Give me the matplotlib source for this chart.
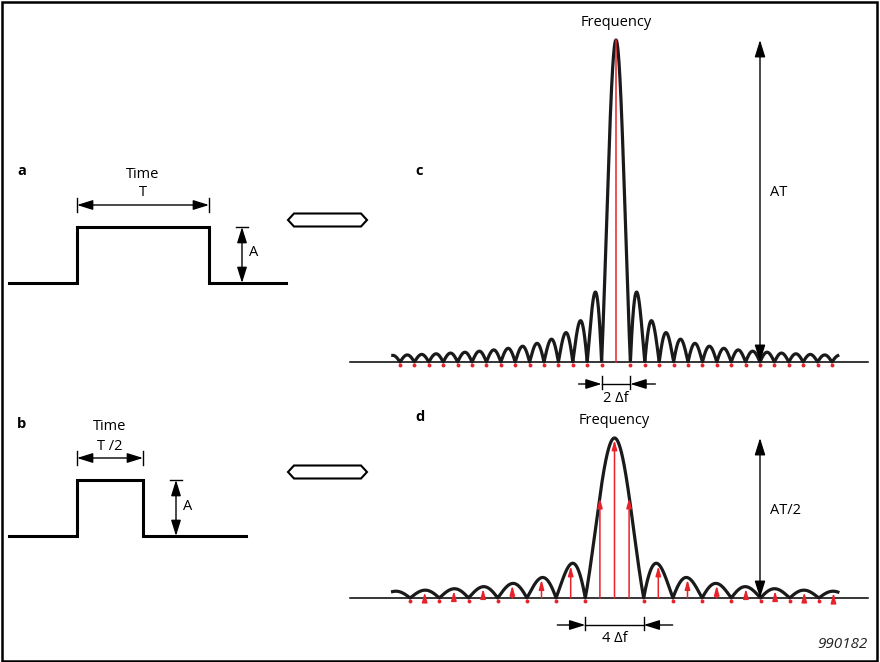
import numpy as np
import matplotlib.pyplot as plt
from matplotlib.patches import Polygon, Rectangle

plt.rcParams['font.family'] = ['Open Sans', 'DejaVu Sans']

# drawing is laid out in pixel units of the 880 x 662 picture
# time pulses: a has width T, b has width T/2
panel_time = ['a', 'b']
pulse_start = 77
pulse_width = [132, 66]
pulse_amp = [56, 56]
pulse_base = [283, 536]
line_start = 9
line_end = [286, 246]
width_label = ['T', 'T /2']

# spectra: c = AT|sinc(f T)|, d = AT/2 |sinc(f T/2)|, f in units of df
panel_freq = ['c', 'd']
df = [14.4, 14.6]
centre = [616, 614.5]
peak = [322, 160]
spec_base = [362, 598]
f_min = [-15.5, -15.2]
f_max = [15.4, 15.3]
width_factor = [1.0, 0.5]
n_min = [-15, -14]
n_max = [15, 15]
height_label = ['AT', 'AT/2']
dim_label = ['2 \u0394f', '4 \u0394f']

RED = '#e8222b'
FS = 10.5

fig = plt.figure(figsize=(8.8, 6.62), dpi=100)
ax = fig.add_axes([0, 0, 1, 1])
ax.set_xlim(0, 880)
ax.set_ylim(662, 0)
ax.axis('off')

ax.add_patch(Rectangle((1.5, 1.5), 875, 659, fill=False, lw=1.8, ec='black'))


def arrow(x0, y0, x1, y1, color='black', lw=1.0, hl=0.8, hw=0.25, ms=12, both=False):
    style = '<|-|>' if both else '-|>'
    ax.annotate('', xy=(x1, y1), xytext=(x0, y0),
                arrowprops=dict(arrowstyle=f'{style},head_length={hl},head_width={hw}',
                                color=color, lw=lw, mutation_scale=ms,
                                shrinkA=0, shrinkB=0))


# ---- time panels a, b
for i in range(2):
    x0 = pulse_start
    x1 = pulse_start + pulse_width[i]
    yb = pulse_base[i]
    yt = yb - pulse_amp[i]
    ax.plot([line_start, x0, x0, x1, x1, line_end[i]], [yb, yb, yt, yt, yb, yb],
            color='black', lw=2.2, solid_joinstyle='miter')
    ax.text(17, yb - 112, panel_time[i], fontsize=10.5, fontweight='bold', va='center')
    # width dimension
    yd = yt - 22
    ax.plot([x0, x0], [yd - 7, yd + 7], color='black', lw=1.0)
    ax.plot([x1, x1], [yd - 7, yd + 7], color='black', lw=1.0)
    arrow(x0, yd, x1, yd, both=True)
    xm = (x0 + x1) / 2
    ax.text(xm, yd - 31, 'Time', fontsize=FS, ha='center', va='center')
    ax.text(xm, yd - 12, width_label[i], fontsize=FS, ha='center', va='center')
    # amplitude
    xa = x1 + 33
    ax.plot([xa - 6, xa + 6], [yt, yt], color='black', lw=1.0)
    arrow(xa, yt, xa, yb, both=True)
    ax.text(xa + 7, (yt + yb) / 2 - 2, 'A', fontsize=FS, va='center')

    # transform symbol
    yc = [220, 472][i]
    hexa = [(288, yc), (294, yc - 6.5), (361, yc - 6.5), (367, yc),
            (361, yc + 6.5), (294, yc + 6.5)]
    ax.add_patch(Polygon(hexa, closed=True, fill=False, lw=1.5, ec='black'))

# ---- frequency panels c, d
for i in range(2):
    c = centre[i]
    yb = spec_base[i]
    f = np.linspace(f_min[i], f_max[i], 3000)
    amp = peak[i] * np.abs(np.sinc(f * width_factor[i]))
    ax.plot([350, 868], [yb, yb], color='black', lw=1.1)
    ax.plot(c + f * df[i], yb - amp, color='#1a1a1a', lw=2.3, zorder=3)

    n = np.arange(n_min[i], n_max[i] + 1)
    h = peak[i] * np.abs(np.sinc(n * width_factor[i]))
    zero = h < 1e-6
    ax.plot(c + n[zero] * df[i], np.full(zero.sum(), yb + 3), 'o', color=RED,
            ms=2.8, mec='none', zorder=4)
    for nk, hk in zip(n[~zero], h[~zero]):
        if i == 0:
            ax.plot([c, c], [yb, yb - hk], color=RED, lw=1.1, zorder=4)
        else:
            arrow(c + nk * df[i], yb, c + nk * df[i], yb - hk + 2, color=RED,
                  lw=1.1, hl=0.8, hw=0.22, ms=7)

    ax.text(415, yb - 191 if i == 0 else yb - 181, panel_freq[i], fontsize=10.5,
            fontweight='bold', va='center')
    ax.text(c, yb - peak[i] - 18, 'Frequency', fontsize=FS, ha='center', va='center')

    # height arrow
    arrow(760, yb - peak[i], 760, yb, both=True, ms=13)
    ax.text(770, yb - peak[i] / 2 - 8, height_label[i], fontsize=FS, va='center')

    # spacing dimension
    w = 2 * df[i] if i == 0 else 4 * df[i]
    xl = c - w / 2
    xr = c + w / 2
    yd = yb + 22 if i == 0 else yb + 27
    ax.plot([xl, xl], [yd - 8, yd + 5], color='black', lw=1.0)
    ax.plot([xr, xr], [yd - 8, yd + 5], color='black', lw=1.0)
    ax.plot([xl, xr], [yd, yd], color='black', lw=1.0)
    arrow(xl - 23 - (5 if i else 0), yd, xl, yd)
    arrow(xr + 25 + (4 if i else 0), yd, xr, yd)
    ax.text(c, yd + 14, dim_label[i], fontsize=FS, ha='center', va='center')

ax.text(868, 645, '990182', fontsize=11, style='italic', ha='right', va='center',
        color='#222222')

fig.savefig('out.png', dpi=100)
